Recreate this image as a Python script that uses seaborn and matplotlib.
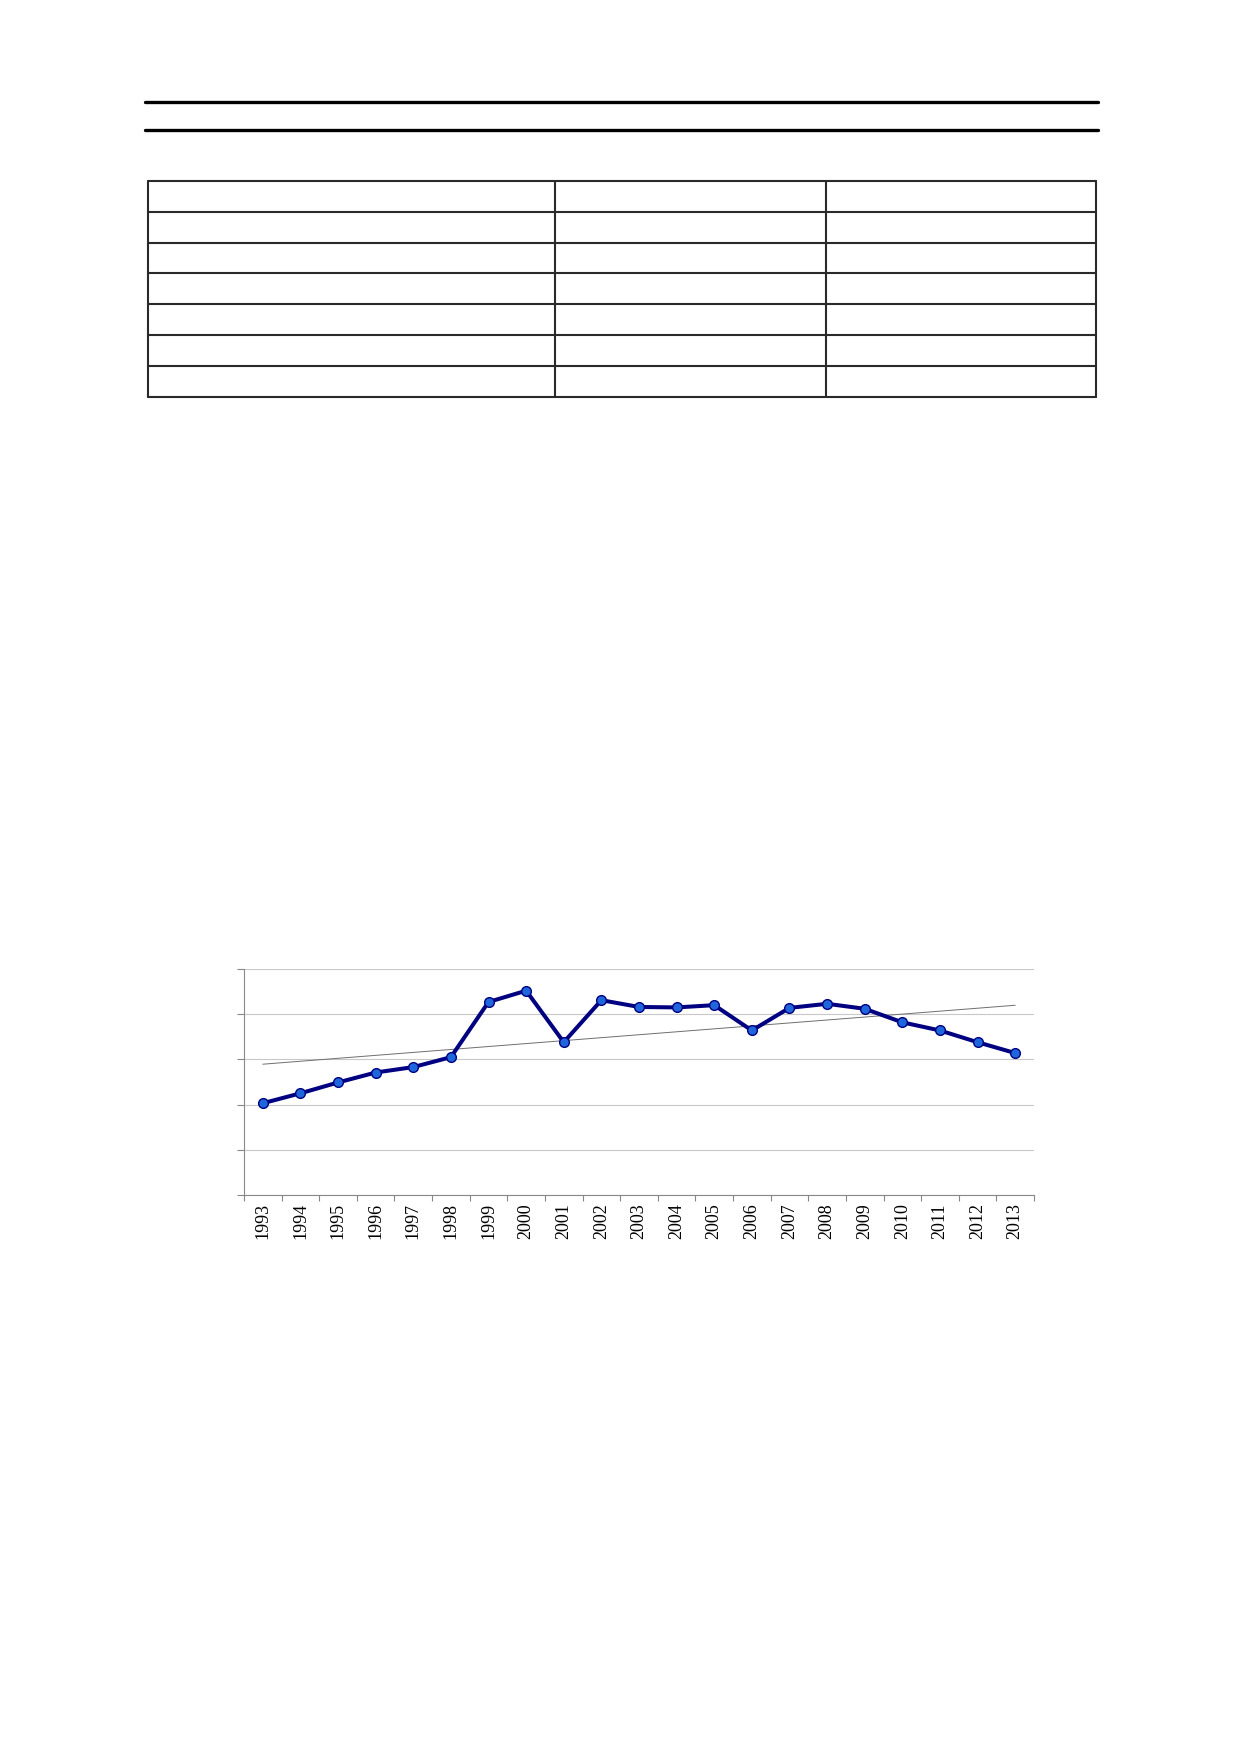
import numpy as np
import pandas as pd
import matplotlib
matplotlib.use("Agg")
import matplotlib.pyplot as plt
from matplotlib.lines import Line2D
import seaborn as sns

# series (in grid units, axis 0..5, no value labels shown)
years = list(range(1993, 2014))
values = [2.03, 2.25, 2.49, 2.71, 2.83, 3.05, 4.27, 4.52, 3.38, 4.31, 4.16,
          4.15, 4.20, 3.64, 4.14, 4.23, 4.12, 3.82, 3.64, 3.38, 3.14]
y_ticks = [0, 1, 2, 3, 4, 5]

df = pd.DataFrame({"year": years, "value": values})

W, H = 1239, 1754
fig = plt.figure(figsize=(W / 100, H / 100), dpi=100)
sns.set_style("white")
plt.rcParams["font.family"] = ["Liberation Serif", "DejaVu Serif"]

# page decorations: two rules and an empty table grid
def hline(x0, x1, y, lw, color="black"):
    fig.add_artist(Line2D([x0 / W, x1 / W], [1 - y / H, 1 - y / H], lw=lw, color=color))

def vline(x, y0, y1, lw, color="black"):
    fig.add_artist(Line2D([x / W, x / W], [1 - y0 / H, 1 - y1 / H], lw=lw, color=color))

hline(145, 1098, 102, 2.4)
hline(145, 1098, 130, 2.4)

row_y = [181, 212, 243, 273, 304, 335, 366, 397]
col_x = [148, 555, 826, 1096]
for y in row_y:
    hline(col_x[0], col_x[-1], y, 1.5, "#2a2a2a")
for x in col_x:
    vline(x, row_y[0], row_y[-1], 1.5, "#2a2a2a")

# chart
left, right, top, bottom = 244, 1034, 969, 1195
ax = fig.add_axes([left / W, 1 - bottom / H, (right - left) / W, (bottom - top) / H])

sns.regplot(data=df, x="year", y="value", scatter=False, ci=None, truncate=True,
            ax=ax, line_kws=dict(color="#6e6e6e", lw=0.7, zorder=2))
sns.lineplot(data=df, x="year", y="value", ax=ax, color="#000080", lw=2.9,
             marker="o", markersize=7, markerfacecolor="#1f66dd",
             markeredgecolor="#000080", markeredgewidth=1.0, zorder=3)

ax.set_xlim(years[0] - 0.5, years[-1] + 0.5)
ax.set_ylim(y_ticks[0], y_ticks[-1])
ax.set_yticks(y_ticks)
ax.set_yticklabels([])
ax.yaxis.grid(True, color="#c8c8c8", lw=0.8)
ax.set_axisbelow(True)

ax.set_xticks(years)
ax.set_xticklabels([str(y) for y in years], rotation=90, fontsize=13, color="black",
                   family=["Liberation Serif", "DejaVu Serif"])
ax.set_xticks([y - 0.5 for y in years] + [years[-1] + 0.5], minor=True)
ax.tick_params(axis="x", which="major", bottom=True, length=0, pad=6)
ax.tick_params(axis="x", which="minor", bottom=True, length=4, direction="out",
               color="#888888", width=0.8)
ax.tick_params(axis="y", left=True, length=5, direction="out", color="#888888", width=0.8)
ax.set_xlabel("")
ax.set_ylabel("")

for side in ["top", "right"]:
    ax.spines[side].set_visible(False)
for side in ["left", "bottom"]:
    ax.spines[side].set_color("#888888")
    ax.spines[side].set_linewidth(0.8)

fig.savefig("out.png", dpi=100, facecolor="white")
